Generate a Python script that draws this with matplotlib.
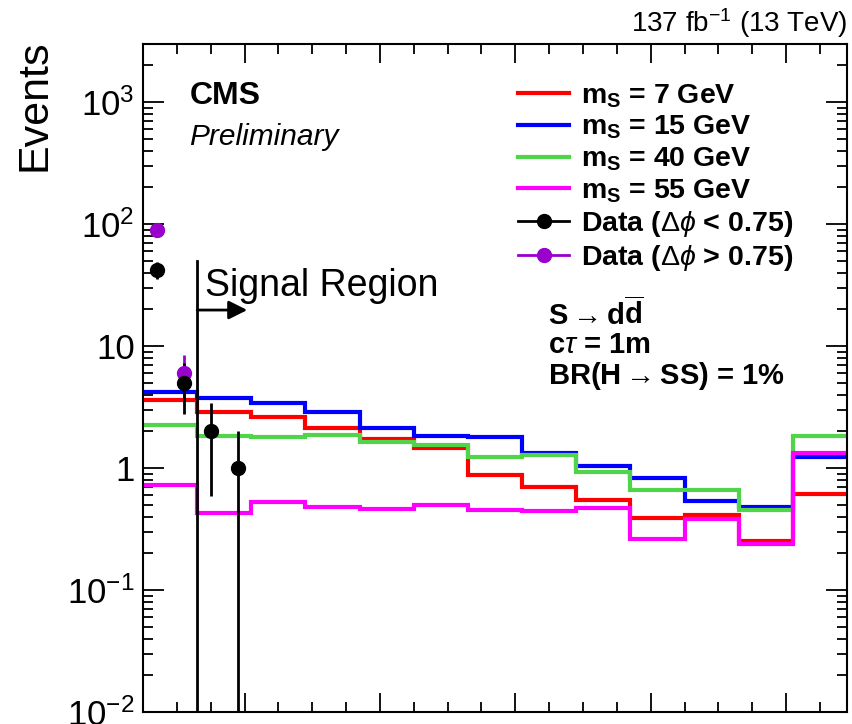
import numpy as np
import matplotlib
matplotlib.use("Agg")
import matplotlib.pyplot as plt
from matplotlib.lines import Line2D
from matplotlib.ticker import FixedLocator, FuncFormatter, MultipleLocator, LogLocator, NullFormatter

plt.rcParams["font.family"] = ["Liberation Sans", "DejaVu Sans"]
plt.rcParams["mathtext.fontset"] = "custom"
plt.rcParams["mathtext.rm"] = "Liberation Sans"
plt.rcParams["mathtext.it"] = "Liberation Sans:italic"
plt.rcParams["mathtext.bf"] = "Liberation Sans:bold"

# ---- data -------------------------------------------------------------
bin_edges = np.linspace(0.25, 5.45, 14)          # 13 equal-width bins
sig_m7 = [3.61, 2.86, 2.60, 2.12, 1.74, 1.45, 0.88, 0.70, 0.55, 0.39, 0.41, 0.25, 0.61]
sig_m15 = [4.22, 3.77, 3.39, 2.89, 2.13, 1.83, 1.79, 1.32, 1.04, 0.82, 0.54, 0.48, 1.24]
sig_m40 = [2.25, 1.83, 1.79, 1.86, 1.64, 1.54, 1.22, 1.28, 0.92, 0.66, 0.66, 0.45, 1.83]
sig_m55 = [0.73, 0.43, 0.53, 0.48, 0.46, 0.50, 0.45, 0.44, 0.47, 0.26, 0.38, 0.24, 1.33]

data_x_low = [0.35, 0.55, 0.75, 0.95]            # data in half-width bins
data_low = [42, 5, 2, 1]
data_x_high = [0.35, 0.55]
data_high = [90, 6]

signal_labels = [r"$\mathbf{m_{S}}$ = 7 GeV", r"$\mathbf{m_{S}}$ = 15 GeV",
                 r"$\mathbf{m_{S}}$ = 40 GeV", r"$\mathbf{m_{S}}$ = 55 GeV"]
signal_colors = ["#ff0000", "#0000ff", "#4fd44a", "#ff00ff"]
data_labels = [r"Data ($\Delta\phi$ < 0.75)", r"Data ($\Delta\phi$ > 0.75)"]
data_colors = ["#000000", "#9900cc"]

y_ticks = [1e-2, 1e-1, 1, 10, 1e2, 1e3]
y_tick_labels = [r"$10^{-2}$", r"$10^{-1}$", "1", "10", r"$10^{2}$", r"$10^{3}$"]

signal_region_start = 0.65

# ---- figure -----------------------------------------------------------
W, H = 852, 724
fig = plt.figure(figsize=(W / 100, H / 100), dpi=100)
L, R, T, B = 143, 847, 44, 712
ax = fig.add_axes([L / W, 1 - B / H, (R - L) / W, (B - T) / H])

def fpos(x, y):
    return (x / W, 1 - y / H)

for vals, col in zip([sig_m7, sig_m15, sig_m40, sig_m55], signal_colors):
    ax.stairs(vals, bin_edges, baseline=None, color=col, lw=3.0, zorder=2)

def draw_data(x, n, col):
    n = np.asarray(n, dtype=float)
    err = np.sqrt(n)
    lo = np.minimum(err, n - 1e-6)
    ax.errorbar(x, n, yerr=[lo, err], fmt="o", color=col, ms=10, lw=2,
                capsize=0, zorder=4)

draw_data(data_x_high, data_high, data_colors[1])
draw_data(data_x_low, data_low, data_colors[0])

ax.set_yscale("log")
ax.set_xlim(bin_edges[0], bin_edges[-1])
ax.set_ylim(1e-2, 2985)

# signal region marker
ax.plot([signal_region_start, signal_region_start], [1e-3, 50], color="black", lw=2, zorder=3)
ax.annotate("", xy=(signal_region_start + 0.37, 19.7), xytext=(signal_region_start, 19.7),
            arrowprops=dict(arrowstyle="-|>", color="black", lw=2, mutation_scale=28,
                            shrinkA=0, shrinkB=0))
ax.text(signal_region_start + 0.06, 31, "Signal Region", fontsize=27, va="center", ha="left")

# axes styling
for s in ax.spines.values():
    s.set_linewidth(1.5)
ax.yaxis.set_major_locator(FixedLocator(y_ticks))
ax.yaxis.set_major_formatter(FuncFormatter(lambda v, p: y_tick_labels[y_ticks.index(v)]
                                           if v in y_ticks else ""))
ax.yaxis.set_minor_locator(LogLocator(base=10, subs=np.arange(2, 10), numticks=20))
ax.yaxis.set_minor_formatter(NullFormatter())
ax.xaxis.set_major_locator(MultipleLocator(1))
ax.xaxis.set_minor_locator(MultipleLocator(0.25))
ax.tick_params(which="both", direction="in", top=True, right=True, width=1.3)
ax.tick_params(axis="y", which="major", length=15, labelsize=25, pad=6)
ax.tick_params(axis="y", which="minor", length=7.5)
ax.tick_params(axis="x", which="major", length=14, labelbottom=False)
ax.tick_params(axis="x", which="minor", length=7)

ax.set_ylabel("Events", fontsize=31, loc="top")
ax.yaxis.set_label_coords(-0.126, 1.006)

# labels
fig.text(*fpos(190, 104), "CMS", fontsize=23, fontweight="bold", va="baseline")
fig.text(*fpos(189, 145), "Preliminary", fontsize=21.5, fontstyle="italic", va="baseline")
fig.text(*fpos(847, 32), r"137 fb$^{-1}$ (13 TeV)", fontsize=20, ha="right", va="baseline")

handles = [Line2D([], [], color=c, lw=3) for c in signal_colors]
handles += [Line2D([], [], color=c, lw=2, marker="o", ms=10) for c in data_colors]
leg = fig.legend(handles, signal_labels + data_labels, loc="upper left",
                 bbox_to_anchor=fpos(518, 82), frameon=False, borderpad=0,
                 borderaxespad=0, handlelength=1.8, handletextpad=0.42,
                 labelspacing=0.15, prop=dict(size=20.5, weight="bold"))

fig.text(*fpos(548, 325), r"S$\rightarrow$d$\mathbf{\overline{d}}$", fontsize=21,
         fontweight="bold", va="baseline")
fig.text(*fpos(548, 353), r"c$\tau$ = 1m", fontsize=21, fontweight="bold", va="baseline")
fig.text(*fpos(548, 384), r"BR(H$\rightarrow$SS) = 1%", fontsize=21, fontweight="bold",
         va="baseline")

fig.savefig("out.png", dpi=100)
